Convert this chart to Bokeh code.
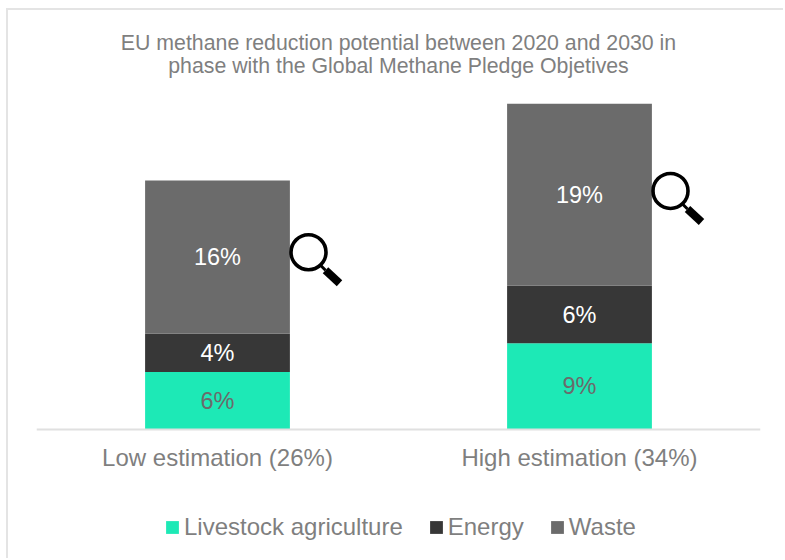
from bokeh.plotting import figure
from bokeh.embed import file_html
from bokeh.resources import INLINE
from bokeh.models import Range1d, FactorRange, Legend, LegendItem, ColumnDataSource
from bokeh.transform import dodge
from bokeh.core.properties import value

title_lines = ["EU methane reduction potential between 2020 and 2030 in",
               "phase with the Global Methane Pledge Objetives"]
categories = ["Low estimation (26%)", "High estimation (34%)"]
livestock = [6, 9]
energy = [4, 6]
waste = [16, 19]
series_names = ["Livestock agriculture", "Energy", "Waste"]
series_colors = ["#1DE9B6", "#373737", "#6B6B6B"]
label_colors = ["#6B6B6B", "#FFFFFF", "#FFFFFF"]
lens_levels = [18.5, 24.9]

FONT = "Liberation Sans"
GREY = "#7F7F7F"
PX_Y = 9.58
PX_X = 362
BASE = 429
TOP = 10

p = figure(width=777, height=550, output_backend="svg", toolbar_location=None,
           x_range=FactorRange(factors=categories, range_padding=0, factor_padding=0, group_padding=0),
           y_range=Range1d(-(560 - BASE) / PX_Y, (BASE - TOP) / PX_Y),
           min_border_left=28, min_border_right=25, min_border_bottom=0, min_border_top=0)
p.styles = {"position": "absolute", "left": "6px", "top": "8px",
            "border-left": "2px solid #E4E4E4", "border-top": "2px solid #E4E4E4"}
p.outline_line_color = None
p.grid.visible = False
p.yaxis.visible = False

ax = p.xaxis[0]
ax.fixed_location = 0
ax.axis_line_color = "#E0E0E0"
ax.axis_line_width = 2
ax.major_tick_line_color = None
ax.minor_tick_line_color = None
ax.major_label_text_font = FONT
ax.major_label_text_font_size = "24px"
ax.major_label_text_color = GREY
ax.major_label_standoff = 8

src = ColumnDataSource(dict(cat=categories, livestock=livestock, energy=energy, waste=waste))
keys = ["livestock", "energy", "waste"]
bars = p.vbar_stack(keys, x="cat", width=0.4, source=src, color=series_colors, line_color=None)

bottoms = [0, 0]
for key, col in zip(keys, label_colors):
    vals = src.data[key]
    mids = [b + v / 2 for b, v in zip(bottoms, vals)]
    bottoms = [b + v for b, v in zip(bottoms, vals)]
    ls = ColumnDataSource(dict(cat=categories, y=mids, t=[f"{v}%" for v in vals]))
    p.text(x="cat", y="y", text="t", source=ls, text_font=value(FONT), text_font_size="23.5px",
           text_color=col, text_align="center", text_baseline="middle")

# title lines, centred over the plot
ts = ColumnDataSource(dict(cat=[categories[0]] * 2, y=[(BASE - 42) / PX_Y, (BASE - 65) / PX_Y], t=title_lines))
p.text(x=dodge("cat", 0.5, range=p.x_range), y="y", text="t", source=ts, text_font=value(FONT),
       text_font_size="21.3px", text_color=GREY, text_align="center", text_baseline="middle")

# magnifier marks placed beside each bar
lens = ColumnDataSource(dict(cat=categories, y=lens_levels,
                             y_a=[v - 13 / PX_Y for v in lens_levels],
                             y_b=[v - 18 / PX_Y for v in lens_levels],
                             y_c=[v - 31 / PX_Y for v in lens_levels]))
d = lambda px: dodge("cat", px / PX_X, range=p.x_range)
p.scatter(x=d(91), y="y", source=lens, marker="circle", size=35, fill_color=None,
          line_color="black", line_width=3.6)
p.segment(x0=d(103), y0="y_a", x1=d(108), y1="y_b", source=lens, line_color="black", line_width=3)
p.segment(x0=d(108), y0="y_b", x1=d(122), y1="y_c", source=lens, line_color="black", line_width=8)

items = [LegendItem(label=n, renderers=[r]) for n, r in zip(series_names, bars)]
leg = Legend(items=items, orientation="horizontal", location=(128, 19), background_fill_alpha=0,
             border_line_color=None, glyph_width=16, glyph_height=16, label_text_font=FONT,
             label_text_font_size="24px", label_text_color=GREY, spacing=25, label_standoff=4,
             padding=0, margin=0)
p.add_layout(leg, "center")

open("out.html", "w").write(file_html(p, INLINE))
